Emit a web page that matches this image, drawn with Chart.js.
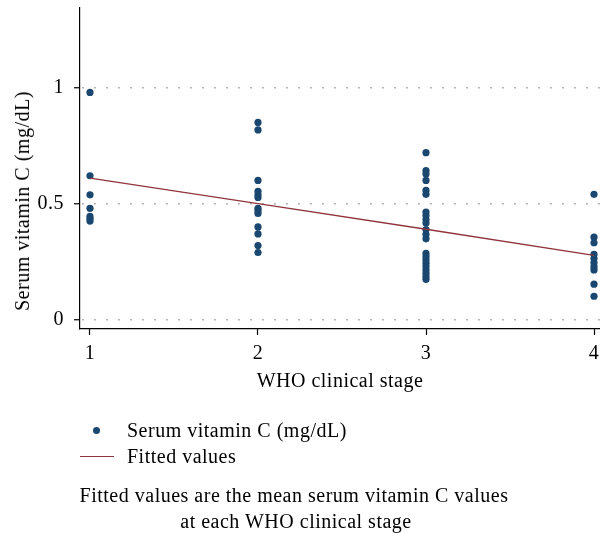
<!DOCTYPE html>
<html><head><meta charset="utf-8">
<script src="https://cdn.jsdelivr.net/npm/chart.js@4/dist/chart.umd.min.js"></script>
<style>
html,body{margin:0;padding:0;background:#fff;}
#wrap{position:relative;width:600px;height:533px;font-family:"Liberation Serif",serif;color:#000;overflow:hidden;}
canvas{position:absolute;left:0;top:0;}
.t{position:absolute;white-space:nowrap;font-size:20px;letter-spacing:0.5px;line-height:1;transform:translateY(-50%);}
</style></head><body>
<div id="wrap">
<canvas id="c" width="600" height="533"></canvas>
<div class="t" id="ytitle" style="left:22px;top:201px;transform:translate(-50%,-50%) rotate(-90deg);">Serum vitamin C (mg/dL)</div>
<div style="position:absolute;left:93px;top:427px;width:7px;height:7px;border-radius:50%;background:#1a476f;"></div>
<div class="t" style="left:127px;top:430px;">Serum vitamin C (mg/dL)</div>
<div style="position:absolute;left:80px;top:456px;width:34px;height:1.3px;background:#90353b;"></div>
<div class="t" style="left:127px;top:456px;">Fitted values</div>
<div class="t" style="left:294px;top:495px;transform:translate(-50%,-50%);">Fitted values are the mean serum vitamin C values</div>
<div class="t" style="left:296px;top:521px;transform:translate(-50%,-50%);">at each WHO clinical stage</div>
</div>
<script>
const stages = [1, 2, 3, 4];
const xTicks = [1, 2, 3, 4];
const yTicks = [0, 0.5, 1];
const serumStage1 = [0.978, 0.62, 0.538, 0.48, 0.445, 0.435, 0.425];
const serumStage2 = [0.849, 0.817, 0.60, 0.553, 0.538, 0.527, 0.48, 0.47, 0.458, 0.40, 0.37, 0.32, 0.29];
const serumStage3 = [0.719, 0.642, 0.628, 0.60, 0.557, 0.540, 0.464, 0.449, 0.432, 0.417, 0.389, 0.368, 0.349,
                     0.286, 0.272, 0.258, 0.244, 0.230, 0.215, 0.201, 0.187, 0.175];
const serumStage4 = [0.54, 0.356, 0.332, 0.282, 0.264, 0.246, 0.229, 0.215, 0.154, 0.102];
const fittedValues = [0.61, 0.50, 0.39, 0.278];

const FONT = "'Liberation Serif', serif";
const points = [];
[serumStage1, serumStage2, serumStage3, serumStage4].forEach((arr, i) =>
  arr.forEach(v => points.push({x: stages[i], y: v})));

const spacingPlugin = {
  id: 'spacing',
  beforeDraw(chart) { chart.ctx.letterSpacing = '0.5px'; }
};

new Chart(document.getElementById('c'), {
  type: 'scatter',
  plugins: [spacingPlugin],
  data: {
    datasets: [
      {label: 'Serum vitamin C (mg/dL)', data: points, backgroundColor: '#1a476f', borderColor: '#1a476f',
       pointRadius: 3.6, pointBorderWidth: 0, pointHoverRadius: 3.6, order: 1, clip: 6},
      {type: 'line', label: 'Fitted values', data: stages.map((s, i) => ({x: s, y: fittedValues[i]})),
       borderColor: '#90353b', borderWidth: 1.3, pointRadius: 0, fill: false, tension: 0, order: 0}
    ]
  },
  options: {
    responsive: false, animation: false, events: [],
    layout: {autoPadding: false, padding: {top: 8, right: 0, bottom: 134, left: 0}},
    plugins: {legend: {display: false}, tooltip: {enabled: false}},
    scales: {
      x: {
        type: 'linear', min: 0.9405, max: 4.0357,
        afterBuildTicks: s => { s.ticks = xTicks.map(v => ({value: v})); },
        afterFit: s => { s.height = 70; s.paddingLeft = 0; s.paddingRight = 0; },
        grid: {drawOnChartArea: false, drawTicks: true, tickLength: 6, tickColor: '#000', tickWidth: 1.2},
        border: {display: true, color: '#000', width: 1.2},
        ticks: {color: '#000', font: {family: FONT, size: 20}, padding: 7, autoSkip: false, maxRotation: 0, callback: v => String(v)},
        title: {display: true, text: 'WHO clinical stage', color: '#000', font: {family: FONT, size: 20}, padding: {top: 0, bottom: 5}}
      },
      y: {
        min: -0.0387, max: 1.341,
        afterBuildTicks: s => { s.ticks = yTicks.map(v => ({value: v})); },
        afterFit: s => { s.width = 80; s.paddingTop = 0; s.paddingBottom = 0; },
        grid: {drawOnChartArea: true, color: '#9a9a9a', lineWidth: 1.5, tickLength: 6, tickColor: '#000', tickWidth: 1.2, tickBorderDash: []},
        border: {display: true, color: '#000', width: 1.2, dash: [1.5, 10.5], dashOffset: -2},
        ticks: {color: '#000', font: {family: FONT, size: 20}, padding: 10, crossAlign: 'near', callback: v => String(v)}
      }
    }
  }
});
</script>
</body></html>
